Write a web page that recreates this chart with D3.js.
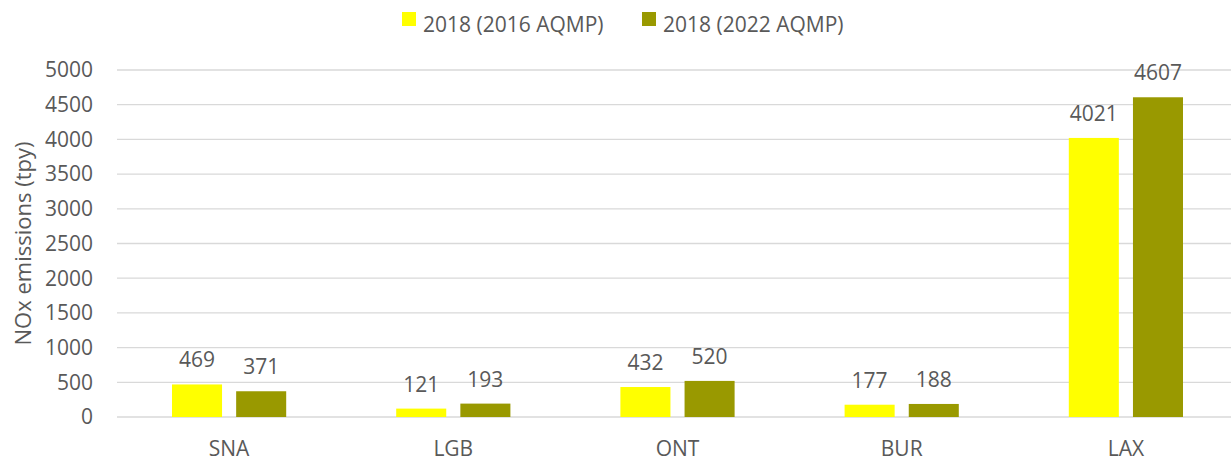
<!DOCTYPE html>
<html>
<head>
<meta charset="utf-8">
<script src="https://cdn.jsdelivr.net/npm/d3@7"></script>
<style>
  body { margin: 0; background: #fff; }
  text { font-family: "Open Sans", "Noto Sans", sans-serif; fill: #595959; }
</style>
</head>
<body>
<svg id="chart" width="1231" height="463"></svg>
<script>
const categories = ['SNA', 'LGB', 'ONT', 'BUR', 'LAX'];
const seriesNames = ['2018 (2016 AQMP)', '2018 (2022 AQMP)'];
const values2016 = [469, 121, 432, 177, 4021];
const values2022 = [371, 193, 520, 188, 4607];
const yTicks = [0, 500, 1000, 1500, 2000, 2500, 3000, 3500, 4000, 4500, 5000];
const colors = ['#FFFF00', '#999900'];

const svg = d3.select('#chart');
const margin = {left: 117, right: -7, top: 70, bottom: 46};
const width = 1231, height = 463;

const x = d3.scaleBand().domain(categories)
  .range([margin.left, width - margin.right]).paddingInner(0).paddingOuter(0);
const xs = d3.scaleBand().domain(seriesNames)
  .range([55, x.bandwidth() - 55]).paddingInner(0.22);
const y = d3.scaleLinear().domain([0, 5000]).range([height - margin.bottom, margin.top]);

// Grid lines
svg.append('g')
  .selectAll('line')
  .data(yTicks)
  .enter().append('line')
  .attr('x1', margin.left).attr('x2', width)
  .attr('y1', d => y(d)).attr('y2', d => y(d))
  .attr('stroke', '#D9D9D9').attr('stroke-width', 1.3);

// Y tick labels
svg.append('g')
  .selectAll('text')
  .data(yTicks)
  .enter().append('text')
  .attr('x', 93).attr('y', d => y(d))
  .attr('dy', '0.35em')
  .attr('text-anchor', 'end')
  .attr('font-size', '21px')
  .text(d => d);

// Y axis title
svg.append('text')
  .attr('transform', `translate(31,${(y(0) + y(5000)) / 2}) rotate(-90)`)
  .attr('text-anchor', 'middle')
  .attr('font-size', '22px')
  .text('NOx emissions (tpy)');

// Bars
const rows = categories.map((c, i) => ({cat: c, vals: [values2016[i], values2022[i]]}));
const groups = svg.append('g').selectAll('g')
  .data(rows)
  .enter().append('g')
  .attr('transform', d => `translate(${x(d.cat)},0)`);

groups.selectAll('rect')
  .data(d => d.vals.map((v, j) => ({v, s: seriesNames[j], j})))
  .enter().append('rect')
  .attr('x', d => xs(d.s))
  .attr('width', xs.bandwidth())
  .attr('y', d => y(d.v))
  .attr('height', d => y(0) - y(d.v))
  .attr('fill', d => colors[d.j]);

groups.selectAll('text.val')
  .data(d => d.vals.map((v, j) => ({v, s: seriesNames[j], j})))
  .enter().append('text')
  .attr('class', 'val')
  .attr('x', d => xs(d.s) + xs.bandwidth() / 2)
  .attr('y', d => y(d.v) - 17)
  .attr('text-anchor', 'middle')
  .attr('font-size', '21px')
  .attr('fill', '#404040')
  .text(d => d.v);

// X labels
svg.append('g').selectAll('text')
  .data(categories)
  .enter().append('text')
  .attr('x', d => x(d) + x.bandwidth() / 2)
  .attr('y', 456)
  .attr('text-anchor', 'middle')
  .attr('font-size', '21px')
  .text(d => d);

// Legend
const legendX = [402, 642];
const legend = svg.append('g').selectAll('g')
  .data(seriesNames)
  .enter().append('g')
  .attr('transform', (d, i) => `translate(${legendX[i]},12)`);
legend.append('rect')
  .attr('width', 14).attr('height', 14)
  .attr('fill', (d, i) => colors[i]);
legend.append('text')
  .attr('x', 21).attr('y', 20)
  .attr('font-size', '21px')
  .text(d => d);
</script>
</body>
</html>
